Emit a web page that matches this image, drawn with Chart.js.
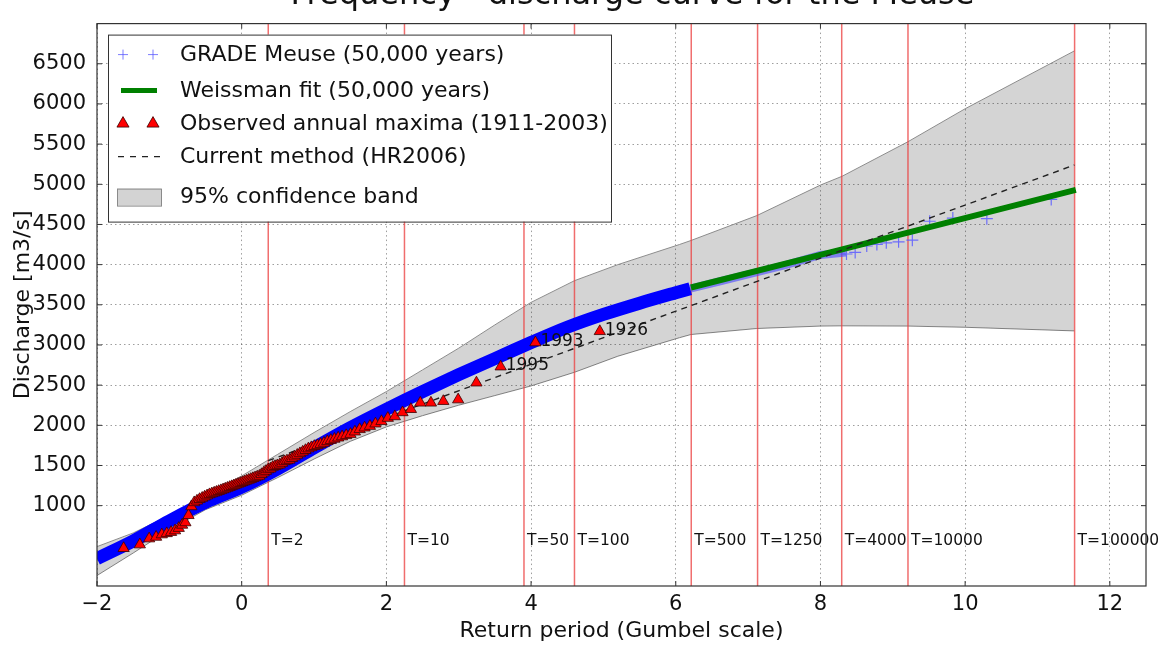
<!DOCTYPE html>
<html>
<head>
<meta charset="utf-8">
<script src="https://cdn.jsdelivr.net/npm/chart.js@4.4.1/dist/chart.umd.min.js"></script>
<style>
  html, body { margin: 0; padding: 0; background: #fff; }
  #wrap { width: 1163px; height: 645px; position: relative; overflow: hidden; }
</style>
</head>
<body>
<div id="wrap"><canvas id="c" width="1163" height="645"></canvas></div>
<script>
// GRADE Meuse, 50,000 simulated years: centre of the dense cloud
const gradeX = [-2.0, -1.5, -1.0, -0.5, 0, 0.5, 1.0, 1.5, 2.0, 2.5, 3.0, 3.5, 4.0, 4.5, 5.0, 5.5, 6.0, 6.2]
const gradeY = [340, 560, 810, 1040, 1230, 1460, 1720, 1970, 2200, 2420, 2630, 2830, 3030, 3220, 3380, 3520, 3650, 3700]
// thinning part of the cloud (under the Weissman fit)
const gradeMidX = [6.2, 6.6, 7.0, 7.5, 8.0, 8.35]
const gradeMidY = [3700, 3790, 3880, 3990, 4120, 4150]
// isolated largest events
const gradeTailX = [8.36, 8.48, 8.64, 8.78, 8.91, 9.08, 9.27, 9.51, 9.83, 10.30, 11.19]
const gradeTailY = [4132, 4152, 4232, 4252, 4272, 4284, 4304, 4540, 4580, 4572, 4812]

// Weissman tail fit
const weissX = [6.21, 8.30, 11.53]
const weissY = [3715, 4190, 4930]

// current method HR2006
const hrX = [0.367, 11.51]
const hrY = [1560, 5240]

// 95% confidence band
const bandX = [-2.0, -1.5, -1.0, -0.5, 0, 0.5, 1.0, 1.5, 2.0, 2.5, 3.0, 3.5, 4.0, 4.6, 5.2, 6.05, 6.21, 7.12, 8.0, 8.3, 9.21, 10.0, 11.51]
const bandUpper = [490, 660, 880, 1110, 1370, 1640, 1910, 2170, 2420, 2690, 2960, 3250, 3530, 3800, 4000, 4250, 4300, 4610, 4990, 5100, 5530, 5940, 6660]
const bandLower = [130, 410, 700, 950, 1130, 1350, 1580, 1800, 1980, 2120, 2250, 2370, 2490, 2660, 2860, 3090, 3130, 3205, 3235, 3238, 3235, 3220, 3175]

// observed annual maxima 1911-2003 (Gumbel plotting position, discharge)
const obsX = [-1.632, -1.408, -1.279, -1.183, -1.104, -1.036, -0.976, -0.921, -0.870, -0.823,
  -0.778, -0.735, -0.695, -0.656, -0.618, -0.582, -0.546, -0.512, -0.478, -0.445,
  -0.412, -0.380, -0.349, -0.318, -0.287, -0.257, -0.227, -0.197, -0.167, -0.138,
  -0.108, -0.079, -0.050, -0.020, 0.009, 0.038, 0.067, 0.097, 0.126, 0.155,
  0.185, 0.215, 0.245, 0.275, 0.305, 0.336, 0.367, 0.398, 0.429, 0.461,
  0.493, 0.526, 0.559, 0.592, 0.626, 0.661, 0.696, 0.732, 0.768, 0.805,
  0.844, 0.882, 0.922, 0.963, 1.004, 1.047, 1.091, 1.137, 1.183, 1.232,
  1.282, 1.334, 1.388, 1.445, 1.504, 1.565, 1.631, 1.699, 1.772, 1.849,
  1.932, 2.020, 2.117, 2.223, 2.339, 2.469, 2.616, 2.787, 2.992, 3.245,
  3.58, 4.06, 4.95]
const obsY = [470, 515, 590, 610, 640, 655, 670, 690, 720, 760,
  790, 880, 990, 1040, 1060, 1080, 1095, 1110, 1125, 1140,
  1150, 1160, 1170, 1180, 1190, 1200, 1210, 1220, 1230, 1240,
  1250, 1260, 1270, 1280, 1290, 1300, 1310, 1320, 1330, 1340,
  1350, 1360, 1370, 1390, 1410, 1430, 1450, 1460, 1480, 1490,
  1500, 1510, 1530, 1550, 1560, 1570, 1590, 1610, 1630, 1650,
  1670, 1690, 1710, 1725, 1740, 1750, 1765, 1780, 1800, 1815,
  1830, 1845, 1860, 1875, 1890, 1920, 1950, 1970, 1990, 2020,
  2050, 2090, 2110, 2160, 2200, 2280, 2280, 2300, 2320, 2530,
  2730, 3030, 3170]
const labelYears = ['1995', '1993', '1926']
const labelIdx = [90, 91, 92]

// return periods and their Gumbel reduced variates
const returnT = ['2', '10', '50', '100', '500', '1250', '4000', '10000', '100000']
const returnX = [0.367, 2.250, 3.902, 4.600, 6.214, 7.131, 8.294, 9.210, 11.513]

const xTicks = [-2, 0, 2, 4, 6, 8, 10, 12]
const yTicks = [1000, 1500, 2000, 2500, 3000, 3500, 4000, 4500, 5000, 5500, 6000, 6500]
const legendLabels = ['GRADE Meuse (50,000 years)', 'Weissman fit (50,000 years)',
  'Observed annual maxima (1911-2003)', 'Current method (HR2006)', '95% confidence band']
const titleText = 'Frequency - discharge curve for the Meuse'

const FONT = '"DejaVu Sans", sans-serif'
const pts = (xs, ys) => xs.map((v, i) => ({ x: v, y: ys[i] }))

function crossAt(ctx, x, y, r) {
  ctx.beginPath()
  ctx.moveTo(x - r, y); ctx.lineTo(x + r, y)
  ctx.moveTo(x, y - r); ctx.lineTo(x, y + r)
  ctx.stroke()
}
function triAt(ctx, x, y, r) {
  ctx.beginPath()
  ctx.moveTo(x, y - r)
  ctx.lineTo(x + r * 0.866, y + r * 0.5)
  ctx.lineTo(x - r * 0.866, y + r * 0.5)
  ctx.closePath()
  ctx.fill(); ctx.stroke()
}

const overlay = {
  id: 'overlay',
  afterDatasetsDraw(chart) {
    const { ctx, chartArea: a, scales: { x, y } } = chart
    ctx.save()
    ctx.fillStyle = '#111'
    ctx.textBaseline = 'middle'

    // return period labels
    ctx.font = '15.5px ' + FONT
    returnT.forEach((t, i) => {
      ctx.fillText('T=' + t, x.getPixelForValue(returnX[i]) + 3, y.getPixelForValue(555))
    })

    // year labels at the largest observed floods
    ctx.font = '17px ' + FONT
    labelIdx.forEach((k, i) => {
      ctx.fillText(labelYears[i], x.getPixelForValue(obsX[k]) + 5, y.getPixelForValue(obsY[k]) - 1)
    })

    // frame with inward ticks
    ctx.strokeStyle = '#333'
    ctx.lineWidth = 1.2
    ctx.strokeRect(a.left, a.top, a.right - a.left, a.bottom - a.top)
    ctx.lineWidth = 1
    ctx.beginPath()
    xTicks.forEach(v => {
      const px = x.getPixelForValue(v)
      ctx.moveTo(px, a.bottom); ctx.lineTo(px, a.bottom - 5)
      ctx.moveTo(px, a.top); ctx.lineTo(px, a.top + 5)
    })
    yTicks.forEach(v => {
      const py = y.getPixelForValue(v)
      ctx.moveTo(a.left, py); ctx.lineTo(a.left + 5, py)
      ctx.moveTo(a.right, py); ctx.lineTo(a.right - 5, py)
    })
    ctx.stroke()

    // legend box
    const lx = a.left + 11, ly = a.top + 11, lw = 503, lh = 187
    ctx.fillStyle = '#fff'
    ctx.fillRect(lx, ly, lw, lh)
    ctx.strokeStyle = '#333'
    ctx.lineWidth = 1
    ctx.strokeRect(lx + 0.5, ly + 0.5, lw, lh)
    const rows = [20, 56, 89, 122, 162].map(r => ly + r)
    const m1 = lx + 15, m2 = lx + 45
    // GRADE crosses
    ctx.strokeStyle = 'rgba(90,90,255,0.8)'
    ctx.lineWidth = 1
    crossAt(ctx, m1, rows[0], 5); crossAt(ctx, m2, rows[0], 5)
    // Weissman line
    ctx.strokeStyle = '#008000'
    ctx.lineWidth = 5
    ctx.beginPath(); ctx.moveTo(lx + 13, rows[1]); ctx.lineTo(lx + 49, rows[1]); ctx.stroke()
    // triangles
    ctx.fillStyle = '#ff0000'
    ctx.strokeStyle = '#3a0000'
    ctx.lineWidth = 0.8
    triAt(ctx, m1, rows[2], 7); triAt(ctx, m2, rows[2], 7)
    // dashed
    ctx.strokeStyle = '#222'
    ctx.lineWidth = 1.4
    ctx.setLineDash([6, 6])
    ctx.beginPath(); ctx.moveTo(lx + 10, rows[3]); ctx.lineTo(lx + 52, rows[3]); ctx.stroke()
    ctx.setLineDash([])
    // band patch
    ctx.fillStyle = '#d3d3d3'
    ctx.strokeStyle = '#8a8a8a'
    ctx.lineWidth = 1
    ctx.fillRect(lx + 9, rows[4] - 8, 44, 17)
    ctx.strokeRect(lx + 9.5, rows[4] - 7.5, 44, 17)
    // legend text
    ctx.fillStyle = '#111'
    ctx.font = '22px ' + FONT
    legendLabels.forEach((t, i) => ctx.fillText(t, lx + 72, rows[i] + 1))

    // title, mostly cut off by the top edge
    ctx.font = '32px ' + FONT
    ctx.textAlign = 'center'
    ctx.textBaseline = 'alphabetic'
    ctx.fillText(titleText, (a.left + a.right) / 2 + 11, 4)
    ctx.restore()
  }
}

const tLineSets = returnX.map(v => ({
  type: 'scatter', showLine: true,
  data: [{ x: v, y: 0 }, { x: v, y: 7000 }],
  borderColor: 'rgba(235,60,60,0.75)', borderWidth: 1.5,
  pointRadius: 0, order: 8
}))

new Chart(document.getElementById('c'), {
  type: 'scatter',
  data: {
    datasets: [
      { label: 'band upper', data: pts(bandX, bandUpper), showLine: true, fill: '+1',
        backgroundColor: 'rgba(0,0,0,0.17)', borderColor: '#8c8c8c', borderWidth: 1,
        pointRadius: 0, order: 10 },
      { label: 'band lower', data: pts(bandX, bandLower), showLine: true, fill: false,
        borderColor: '#8c8c8c', borderWidth: 1, pointRadius: 0, order: 10 },
      ...tLineSets,
      { label: legendLabels[0], data: pts(gradeX, gradeY), showLine: true, tension: 0.3,
        borderColor: '#0000ff', borderWidth: 13, borderCapStyle: 'butt',
        pointRadius: 0, order: 5 },
      { label: 'grade mid', data: pts(gradeMidX, gradeMidY), showLine: true,
        borderColor: 'rgba(70,70,255,0.6)', borderWidth: 8, pointRadius: 0, order: 5 },
      { label: 'grade tail', data: pts(gradeTailX, gradeTailY),
        pointStyle: 'cross', pointRadius: 6, borderColor: 'rgba(90,90,255,0.85)',
        borderWidth: 1.2, order: 5 },
      { label: legendLabels[1], data: pts(weissX, weissY), showLine: true,
        borderColor: '#008000', borderWidth: 6, pointRadius: 0, order: 3 },
      { label: legendLabels[3], data: pts(hrX, hrY), showLine: true,
        borderColor: '#222', borderWidth: 1.4, borderDash: [6, 5], pointRadius: 0, order: 2 },
      { label: legendLabels[2], data: pts(obsX, obsY),
        pointStyle: 'triangle', pointRadius: 6.5, backgroundColor: '#ff0000',
        borderColor: '#3a0000', borderWidth: 0.8, order: 1 }
    ]
  },
  options: {
    responsive: false,
    animation: false,
    events: [],
    layout: { padding: { top: 5, right: 17, left: 0, bottom: 0 } },
    plugins: { legend: { display: false }, tooltip: { enabled: false } },
    scales: {
      x: {
        type: 'linear', min: -2, max: 12.5,
        afterBuildTicks: s => { s.ticks = xTicks.map(v => ({ value: v })) },
        afterFit: s => { s.height = 59 },
        ticks: {
          callback: v => v < 0 ? '\u2212' + Math.abs(v) : String(v),
          font: { family: FONT, size: 21 }, color: '#111', padding: 6,
          maxRotation: 0, autoSkip: false
        },
        grid: { color: 'rgba(0,0,0,0.38)', lineWidth: 1, drawTicks: false },
        border: { display: false, dash: [1.5, 3] },
        title: { display: true, text: 'Return period (Gumbel scale)',
          font: { family: FONT, size: 22 }, color: '#111', padding: { top: 0, bottom: 1 } }
      },
      y: {
        type: 'linear', min: 0, max: 7000,
        afterBuildTicks: s => { s.ticks = yTicks.map(v => ({ value: v })) },
        afterFit: s => { s.width = 97 },
        ticks: { callback: v => String(v), font: { family: FONT, size: 21 }, color: '#111', padding: 11, autoSkip: false },
        grid: { color: 'rgba(0,0,0,0.38)', lineWidth: 1, drawTicks: false },
        border: { display: false, dash: [1.5, 3] },
        title: { display: true, text: 'Discharge [m3/s]',
          font: { family: FONT, size: 22 }, color: '#111', padding: { top: 10, bottom: 0 } }
      }
    }
  },
  plugins: [overlay]
})
</script>
</body>
</html>
